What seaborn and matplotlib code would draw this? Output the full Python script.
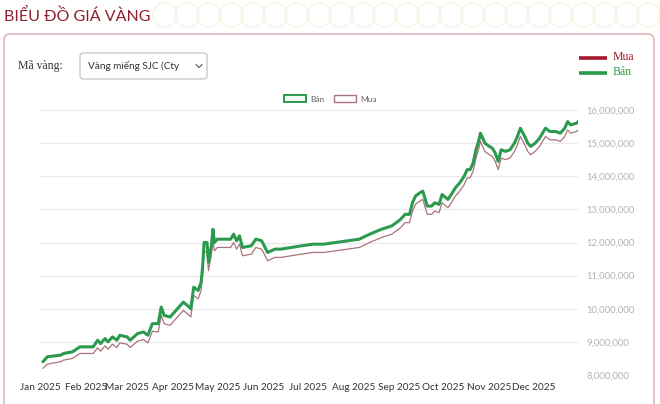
import pandas as pd
import numpy as np
import matplotlib
matplotlib.use("Agg")
import matplotlib.pyplot as plt
import matplotlib.dates as mdates
import matplotlib.patches as mpatches
from matplotlib.ticker import FuncFormatter, MultipleLocator
import seaborn as sns

# gia vang SJC 2025, trieu dong
dates = ["2025-01-03", "2025-01-06", "2025-01-15", "2025-01-17", "2025-01-23", "2025-01-28",
         "2025-02-06", "2025-02-09", "2025-02-11", "2025-02-14", "2025-02-16", "2025-02-19",
         "2025-02-22", "2025-02-24", "2025-03-01", "2025-03-03", "2025-03-08", "2025-03-12",
         "2025-03-15", "2025-03-18", "2025-03-22", "2025-03-24", "2025-03-26", "2025-03-30",
         "2025-04-04", "2025-04-08", "2025-04-12", "2025-04-13", "2025-04-15", "2025-04-18",
         "2025-04-20", "2025-04-21", "2025-04-22", "2025-04-24", "2025-04-25", "2025-04-27",
         "2025-04-28", "2025-04-29", "2025-05-01", "2025-05-10", "2025-05-12", "2025-05-14",
         "2025-05-16", "2025-05-18", "2025-05-24", "2025-05-27", "2025-05-31", "2025-06-04",
         "2025-06-09", "2025-06-13", "2025-06-20", "2025-06-27", "2025-07-05", "2025-07-12",
         "2025-07-20", "2025-07-28", "2025-08-05", "2025-08-12", "2025-08-20", "2025-08-27",
         "2025-08-30", "2025-09-02", "2025-09-05", "2025-09-08", "2025-09-10", "2025-09-12",
         "2025-09-15", "2025-09-17", "2025-09-18", "2025-09-20", "2025-09-23", "2025-09-25",
         "2025-09-28", "2025-09-30", "2025-10-04", "2025-10-07", "2025-10-09", "2025-10-12",
         "2025-10-15", "2025-10-17", "2025-10-19", "2025-10-21", "2025-10-23", "2025-10-25",
         "2025-10-26", "2025-10-27", "2025-10-29", "2025-11-01", "2025-11-03", "2025-11-05",
         "2025-11-07", "2025-11-09", "2025-11-12", "2025-11-15", "2025-11-18", "2025-11-20",
         "2025-11-22", "2025-11-25", "2025-11-27", "2025-11-29", "2025-12-02", "2025-12-05",
         "2025-12-09", "2025-12-12", "2025-12-16", "2025-12-19", "2025-12-22", "2025-12-24",
         "2025-12-26", "2025-12-30", "2025-12-31"]

ban = [8.40, 8.55, 8.60, 8.65, 8.70, 8.85,
       8.85, 9.05, 8.95, 9.10, 9.00, 9.15,
       9.05, 9.20, 9.15, 9.05, 9.25, 9.30,
       9.20, 9.55, 9.55, 10.05, 9.80, 9.75,
       10.00, 10.20, 10.05, 10.00, 10.65, 10.55,
       10.80, 11.25, 12.00, 12.00, 11.40, 11.90,
       12.40, 12.00, 12.10, 12.10, 12.25, 12.05,
       12.20, 11.85, 11.90, 12.10, 12.05, 11.70,
       11.80, 11.80, 11.85, 11.90, 11.95, 11.95,
       12.00, 12.05, 12.10, 12.25, 12.40, 12.50,
       12.60, 12.70, 12.85, 12.85, 13.20, 13.40,
       13.50, 13.55, 13.40, 13.10, 13.10, 13.20,
       13.15, 13.45, 13.30, 13.50, 13.65, 13.80,
       14.00, 14.20, 14.20, 14.40, 14.80, 15.10,
       15.30, 15.20, 15.00, 14.90, 14.85, 14.70,
       14.45, 14.80, 14.75, 14.80, 15.00, 15.20,
       15.45, 15.20, 15.00, 14.90, 15.00, 15.15,
       15.45, 15.35, 15.35, 15.30, 15.45, 15.65,
       15.55, 15.60, 15.65]

mua = [8.20, 8.33, 8.40, 8.45, 8.50, 8.65,
       8.65, 8.82, 8.72, 8.88, 8.78, 8.93,
       8.83, 8.97, 8.93, 8.83, 9.02, 9.07,
       8.97, 9.32, 9.30, 9.80, 9.55, 9.50,
       9.75, 9.95, 9.80, 9.75, 10.40, 10.30,
       10.55, 11.00, 11.75, 11.70, 11.15, 11.65,
       12.10, 11.75, 11.85, 11.85, 12.00, 11.80,
       11.95, 11.60, 11.65, 11.85, 11.80, 11.45,
       11.55, 11.55, 11.60, 11.65, 11.70, 11.70,
       11.75, 11.80, 11.85, 12.00, 12.15, 12.25,
       12.35, 12.45, 12.60, 12.60, 12.95, 13.15,
       13.25, 13.30, 13.15, 12.85, 12.85, 12.95,
       12.90, 13.20, 13.05, 13.25, 13.40, 13.55,
       13.75, 13.95, 13.95, 14.15, 14.55, 14.85,
       15.05, 14.95, 14.75, 14.65, 14.60, 14.45,
       14.20, 14.55, 14.50, 14.55, 14.75, 14.95,
       15.20, 14.95, 14.75, 14.65, 14.75, 14.90,
       15.20, 15.10, 15.10, 15.05, 15.20, 15.40,
       15.30, 15.35, 15.40]

title = "BIỂU ĐỒ GIÁ VÀNG"
ma_vang = "Vàng miếng SJC (Cty"

GREEN = "#2b9a4e"
MUA_LINE = "#a8737c"
RED = "#a3192b"

df = pd.DataFrame({"Ngay": pd.to_datetime(dates), "Bán": ban, "Mua": mua})

sns.set_style("white")
plt.rcParams["font.family"] = ["Lato", "DejaVu Sans"]

fig = plt.figure(figsize=(6.6, 4.04), dpi=100)

# lop nen ve theo toa do pixel
bg = fig.add_axes([0, 0, 1, 1], zorder=0)
bg.set_xlim(0, 660)
bg.set_ylim(404, 0)
bg.axis("off")

# hoa van trang tri canh tieu de
for cx in np.arange(165, 680, 22):
    bg.add_patch(mpatches.Circle((cx, 15), 12, fill=False, ec="#f6f2e4", lw=1.0))
bg.text(4, 16, title, color="#8e1f2e", fontsize=11.5, va="center", ha="left",
        family=["Lato", "DejaVu Sans"])

# khung
bg.add_patch(mpatches.FancyBboxPatch((4, 34), 650, 390, boxstyle="round,pad=0,rounding_size=6",
                                     fc="white", ec="#dba8aa", lw=1.0))
bg.text(18, 66, "Mã vàng:", fontsize=8.5, va="center", color="#333333",
        family=["Liberation Serif", "DejaVu Serif"])
bg.add_patch(mpatches.FancyBboxPatch((80, 53), 127, 26, boxstyle="round,pad=0,rounding_size=3",
                                     fc="white", ec="#bdbdbd", lw=0.8))
bg.text(88, 66, ma_vang, fontsize=7.2, va="center", color="#333333")
bg.plot([196, 199, 202], [64.5, 67.5, 64.5], color="#555555", lw=0.8)

# chu giai ben ngoai
bg.plot([579, 607], [58, 58], color=RED, lw=2.6, solid_capstyle="butt")
bg.text(613, 57, "Mua", color=RED, fontsize=8.5, va="center",
        family=["Liberation Serif", "DejaVu Serif"])
bg.plot([579, 607], [73, 73], color=GREEN, lw=2.6, solid_capstyle="butt")
bg.text(613, 72, "Bán", color=GREEN, fontsize=8.5, va="center",
        family=["Liberation Serif", "DejaVu Serif"])

# bieu do chinh
ax = fig.add_axes([40 / 660, 1 - 375 / 404, 538 / 660, 265 / 404], zorder=2)
ax.patch.set_alpha(0)
sns.lineplot(data=df, x="Ngay", y="Mua", ax=ax, color=MUA_LINE, lw=0.9, label="Mua")
sns.lineplot(data=df, x="Ngay", y="Bán", ax=ax, color=GREEN, lw=2.2, label="Bán")

ax.set_xlim(pd.Timestamp("2025-01-01"), pd.Timestamp("2025-12-31"))
ax.set_ylim(8, 16)
ax.yaxis.set_major_locator(MultipleLocator(1))
ax.yaxis.set_major_formatter(FuncFormatter(lambda v, p: f"{v * 1e6:,.0f}"))
ax.yaxis.tick_right()
ax.xaxis.set_major_locator(mdates.MonthLocator())
ax.xaxis.set_major_formatter(mdates.DateFormatter("%b %Y"))
ax.grid(axis="y", color="#e9e9e9", lw=0.8)
ax.grid(axis="x", visible=False)
for s in ax.spines.values():
    s.set_visible(False)
ax.tick_params(axis="y", length=0, pad=6, labelsize=6.8, labelcolor="#b3b3b3")
ax.tick_params(axis="x", length=0, pad=6, labelsize=7.2, labelcolor="#333333")
ax.set_xlabel("")
ax.set_ylabel("")

handles = [mpatches.Patch(fc="#f4fbf6", ec=GREEN, lw=1.4, label="Bán"),
           mpatches.Patch(fc="white", ec=MUA_LINE, lw=1.0, label="Mua")]
ax.legend(handles=handles, loc="lower center", bbox_to_anchor=(0.54, 1.0), ncol=2,
          frameon=False, fontsize=6, handlelength=2.6, handleheight=0.8,
          columnspacing=1.2, handletextpad=0.5, labelcolor="#666666")

fig.savefig("out.png", dpi=100)
